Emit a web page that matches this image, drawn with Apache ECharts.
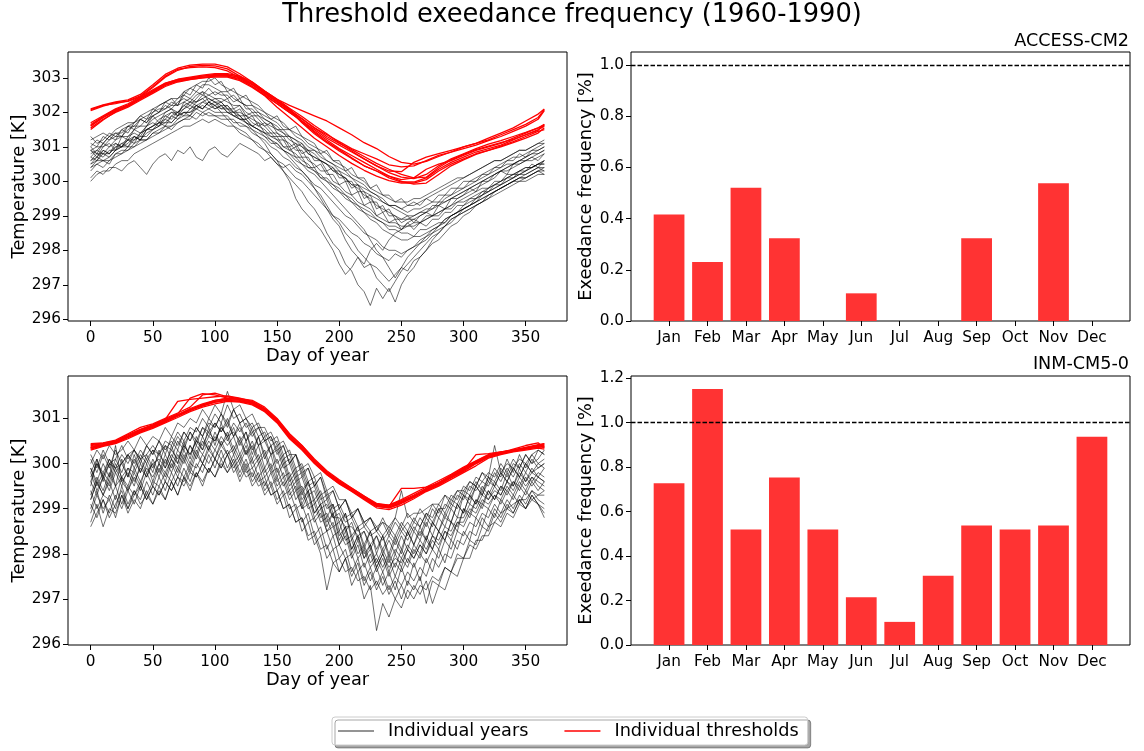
<!DOCTYPE html>
<html>
<head>
<meta charset="utf-8">
<script src="https://cdn.jsdelivr.net/npm/echarts@6/dist/echarts.min.js"></script>
<style>
html, body { margin: 0; padding: 0; background: #fff; }
#chart { width: 1144px; height: 751px; }
</style>
</head>
<body>
<div id="chart"></div>
<script>
// ---- data -------------------------------------------------------------
const MONTHS = ['Jan','Feb','Mar','Apr','May','Jun','Jul','Aug','Sep','Oct','Nov','Dec'];

// day-of-year sampling for the yearly curves and for the threshold curves
const DAYS_YEARS = [0,5,10,15,20,25,30,35,40,45,50,55,60,65,70,75,80,85,90,95,100,105,110,115,120,125,130,135,140,145,150,155,160,165,170,175,180,185,190,195,200,205,210,215,220,225,230,235,240,245,250,255,260,265,270,275,280,285,290,295,300,305,310,315,320,325,330,335,340,345,350,355,360,365];
const DAYS_THRESH = [0,10,20,30,40,50,60,70,80,90,100,110,120,130,140,150,160,170,180,190,200,210,220,230,240,250,260,270,280,290,300,310,320,330,340,350,360,365];

// ACCESS-CM2: daily temperature of individual years [K]
const ACCESS_YEARS = [
 [301.1,301.0,301.3,301.2,301.4,301.3,301.6,301.5,301.8,301.7, 302.0,302.1,302.1,302.3,302.2,302.5,302.4,302.6,302.5,302.7, 302.5,302.6,302.4,302.5,302.3,302.2,302.2,302.0,301.9,301.8, 301.7,301.5,301.5,301.3,301.2,301.0,300.9,300.8,300.6,300.5, 300.4,300.3,300.1,300.0,299.9,299.7,299.6,299.5,299.3,299.3, 299.2,299.1,299.2,299.2,299.3,299.4,299.4,299.6,299.6,299.8, 299.8,300.0,300.0,300.2,300.2,300.4,300.4,300.6,300.6,300.8, 300.7,300.9,300.9,301.0],
 [300.6,300.8,300.7,300.9,300.9,301.1,301.0,301.3,301.2,301.5, 301.5,301.7,301.6,301.9,301.8,302.0,301.9,302.2,302.1,302.3, 302.1,302.2,302.0,302.0,301.8,301.8,301.6,301.7,301.4,301.4, 301.2,301.2,300.9,301.0,300.7,300.7,300.4,300.5,300.2,300.2, 299.9,300.0,299.6,299.7,299.3,299.4,299.0,299.1,298.8,298.9, 298.6,298.8,298.6,298.8,298.7,298.9,298.9,299.1,299.1,299.3, 299.3,299.5,299.5,299.7,299.7,299.9,299.9,300.1,300.1,300.3, 300.3,300.5,300.4,300.6],
 [300.9,300.7,301.0,301.1,300.9,301.3,301.2,301.5,301.4,301.6, 301.9,301.7,302.0,302.1,301.9,302.3,302.2,302.4,302.6,302.3, 302.4,302.3,302.4,302.1,302.2,301.9,302.0,301.8,301.6,301.7, 301.4,301.3,301.3,301.0,301.1,300.8,300.7,300.6,300.5,300.3, 300.3,300.0,300.0,299.7,299.7,299.4,299.4,299.1,299.2,298.9, 298.9,299.0,298.8,299.0,299.1,299.0,299.3,299.2,299.5,299.5, 299.6,299.8,299.7,300.0,300.0,300.1,300.3,300.2,300.5,300.5, 300.6,300.7,300.6,300.8],
 [300.4,300.5,300.6,300.6,300.8,300.8,301.0,301.0,301.2,301.2, 301.4,301.4,301.5,301.6,301.7,301.8,301.8,302.0,301.9,302.0, 301.9,301.9,301.9,301.7,301.7,301.6,301.5,301.4,301.3,301.1, 301.1,300.9,300.8,300.7,300.5,300.4,300.3,300.1,300.1,299.9, 299.8,299.6,299.5,299.3,299.2,299.1,298.9,298.8,298.6,298.6, 298.5,298.5,298.4,298.6,298.6,298.7,298.8,298.8,299.0,299.1, 299.2,299.3,299.4,299.5,299.6,299.7,299.8,299.9,300.0,300.1, 300.1,300.2,300.3,300.3],
 [301.2,301.3,301.4,301.3,301.5,301.6,301.7,301.7,301.9,302.0, 302.1,302.2,302.3,302.4,302.4,302.6,302.7,302.8,302.9,302.9, 303.0,302.8,302.7,302.6,302.5,302.4,302.3,302.2,302.0,301.9, 301.8,301.7,301.5,301.4,301.3,301.1,301.0,300.9,300.8,300.6, 300.5,300.4,300.2,300.1,300.0,299.8,299.7,299.6,299.5,299.4, 299.4,299.4,299.5,299.5,299.6,299.7,299.8,299.9,300.0,300.1, 300.1,300.2,300.3,300.4,300.5,300.6,300.6,300.7,300.8,300.9, 300.9,301.0,301.1,301.1],
 [300.7,300.9,300.8,300.8,301.1,301.0,301.2,301.1,301.4,301.5, 301.6,301.8,301.9,301.8,302.0,302.2,302.1,302.3,302.4,302.2, 302.3,302.1,302.2,302.0,302.1,301.8,301.9,301.6,301.7,301.5, 301.3,301.3,301.0,301.1,300.8,300.9,300.6,300.6,300.3,300.4, 300.1,300.1,299.8,299.9,299.5,299.6,299.2,299.3,299.0,299.0, 298.8,298.9,298.9,298.8,299.0,299.0,299.1,299.2,299.3,299.4, 299.5,299.6,299.7,299.8,299.8,300.0,300.0,300.2,300.2,300.3, 300.4,300.4,300.5,300.6],
 [300.5,300.6,300.8,300.7,300.9,301.0,301.1,301.3,301.2,301.4, 301.5,301.6,301.8,301.7,301.9,302.0,302.0,302.1,302.2,302.1, 302.2,302.0,302.0,301.9,301.8,301.7,301.6,301.5,301.3,301.2, 301.0,300.9,300.7,300.5,300.3,300.1,299.8,299.6,299.3,299.0, 298.8,298.5,298.3,298.0,297.8,297.6,297.5,297.3,297.1,297.3, 297.5,297.4,297.7,297.8,298.0,298.2,298.3,298.5,298.7,298.8, 299.0,299.1,299.3,299.4,299.5,299.7,299.8,299.9,300.0,300.1, 300.2,300.3,300.4,300.4],
 [300.3,300.5,300.4,300.6,300.7,300.8,300.9,301.0,301.1,301.2, 301.3,301.4,301.6,301.5,301.7,301.8,301.9,301.8,302.0,301.9, 301.9,301.8,301.8,301.6,301.5,301.4,301.2,301.1,300.9,300.7, 300.5,300.3,300.1,299.9,299.7,299.4,299.2,298.9,298.5,298.2, 298.0,297.6,297.4,297.0,296.8,296.4,296.9,296.6,296.9,296.5, 297.0,297.3,297.5,297.8,298.0,298.3,298.5,298.7,298.9,299.0, 299.2,299.3,299.4,299.6,299.7,299.8,299.9,300.0,300.1,300.2, 300.2,300.3,300.4,300.3],
 [300.1,300.3,300.2,300.4,300.4,300.3,300.5,300.6,300.4,300.2, 300.5,300.7,300.8,300.6,300.9,300.8,301.0,300.7,300.6,300.9, 301.0,300.8,300.7,300.9,301.1,301.0,300.9,300.8,300.6,300.7, 300.5,300.4,300.5,300.3,300.2,300.0,299.8,299.5,299.2,298.9, 298.7,298.3,298.0,297.8,297.5,297.6,297.2,297.0,296.8,297.1, 297.4,297.6,297.8,298.0,298.2,298.4,298.5,298.7,298.8,299.0, 299.1,299.2,299.3,299.4,299.6,299.7,299.8,299.9,300.0,300.1, 300.1,300.2,300.3,300.2],
 [300.9,301.0,301.0,301.2,301.3,301.3,301.5,301.6,301.6,301.8, 301.9,302.0,302.1,302.2,302.2,302.3,302.4,302.3,302.5,302.4, 302.3,302.3,302.1,302.0,301.9,301.7,301.5,301.3,301.1,300.8, 300.6,300.3,300.0,299.5,299.2,299.0,298.8,298.6,298.3,298.0, 297.6,297.3,297.5,297.8,297.6,298.0,298.2,298.0,298.3,298.5, 298.6,298.8,298.9,299.0,299.1,299.2,299.3,299.4,299.5,299.6, 299.7,299.8,299.9,300.0,300.1,300.2,300.3,300.4,300.5,300.6, 300.6,300.7,300.8,300.9],
 [301.0,301.2,301.1,301.3,301.4,301.4,301.6,301.7,301.8,301.9, 302.0,302.2,302.3,302.2,302.4,302.5,302.7,302.6,302.8,302.8, 302.7,302.6,302.6,302.4,302.3,302.2,302.0,302.0,301.8,301.7, 301.6,301.4,301.3,301.2,301.0,300.9,300.8,300.6,300.5,300.4, 300.2,300.1,299.9,299.8,299.6,299.5,299.3,299.2,299.1,299.0, 298.9,298.9,299.0,299.1,299.1,299.3,299.3,299.5,299.6,299.7, 299.8,299.9,300.0,300.1,300.2,300.3,300.4,300.5,300.5,300.6, 300.7,300.8,300.8,300.9],
 [300.4,300.6,300.6,300.5,300.8,300.9,300.9,301.1,301.2,301.2, 301.4,301.5,301.6,301.6,301.8,301.9,301.9,302.1,302.0,302.1, 302.0,302.0,301.8,301.8,301.6,301.6,301.4,301.3,301.2,301.0, 300.9,300.7,300.6,300.4,300.3,300.1,299.9,299.8,299.6,299.4, 299.2,299.0,298.9,298.7,298.5,298.4,298.3,298.1,298.0,298.0, 297.9,298.0,298.1,298.2,298.3,298.5,298.6,298.7,298.9,299.0, 299.1,299.2,299.3,299.4,299.5,299.6,299.7,299.8,299.9,300.0, 300.0,300.1,300.2,300.2],
 [300.8,300.9,301.1,301.0,301.2,301.3,301.3,301.5,301.6,301.6, 301.8,301.9,302.0,302.1,302.0,302.2,302.3,302.3,302.4,302.5, 302.4,302.4,302.3,302.2,302.2,302.0,301.9,301.9,301.7,301.6, 301.5,301.4,301.2,301.1,301.0,300.8,300.7,300.6,300.5,300.3, 300.2,300.1,299.9,299.9,299.7,299.6,299.5,299.4,299.3,299.3, 299.2,299.3,299.3,299.4,299.5,299.6,299.7,299.8,299.9,300.0, 300.1,300.2,300.3,300.4,300.5,300.6,300.6,300.7,300.8,300.9, 300.9,301.0,301.1,301.2],
 [300.6,300.7,300.9,300.8,301.0,301.1,301.2,301.2,301.4,301.5, 301.6,301.7,301.8,302.0,301.9,302.1,302.2,302.1,302.3,302.2, 302.1,302.2,302.0,301.9,301.9,301.7,301.6,301.5,301.4,301.2, 301.1,300.9,300.8,300.6,300.5,300.3,300.2,300.0,299.8,299.6, 299.4,299.2,299.0,298.8,298.6,298.3,298.0,297.8,297.5,297.2, 297.5,297.8,298.0,298.2,298.4,298.5,298.7,298.9,299.0,299.1, 299.3,299.4,299.5,299.6,299.8,299.9,300.0,300.1,300.2,300.3, 300.4,300.4,300.5,300.6],
 [301.0,300.8,301.1,301.3,301.2,301.5,301.4,301.7,301.9,301.8, 302.1,302.0,302.3,302.4,302.2,302.6,302.5,302.8,302.7,303.0, 302.8,302.9,302.6,302.7,302.4,302.5,302.2,302.1,302.0,301.8, 301.9,301.6,301.5,301.6,301.3,301.2,301.1,300.8,300.9,300.6, 300.6,300.3,300.4,300.1,300.1,299.8,299.9,299.6,299.6,299.4, 299.5,299.3,299.4,299.3,299.5,299.4,299.6,299.6,299.8,299.8, 300.0,300.0,300.1,300.2,300.3,300.4,300.5,300.6,300.7,300.7, 300.8,300.9,301.0,301.1],
 [300.7,300.6,300.9,300.8,301.0,301.0,301.2,301.3,301.2,301.5, 301.6,301.7,301.7,301.9,302.0,301.9,302.1,302.2,302.1,302.3, 302.2,302.3,302.1,302.1,301.9,301.9,301.7,301.6,301.5,301.3, 301.3,301.0,301.0,300.7,300.7,300.4,300.4,300.1,300.0,299.8, 299.7,299.5,299.4,299.2,299.1,298.9,298.8,298.6,298.5,298.4, 298.3,298.3,298.4,298.4,298.5,298.6,298.7,298.9,299.0,299.1, 299.2,299.3,299.5,299.6,299.7,299.8,299.9,300.0,300.1,300.2, 300.3,300.4,300.5,300.5],
 [301.3,301.1,301.2,301.4,301.3,301.5,301.6,301.6,301.8,301.7, 301.9,302.0,302.2,302.1,302.3,302.4,302.3,302.5,302.6,302.5, 302.6,302.5,302.5,302.3,302.4,302.1,302.1,301.9,301.8,301.7, 301.5,301.5,301.3,301.2,301.1,300.9,300.9,300.7,300.6,300.5, 300.3,300.2,300.1,299.9,299.8,299.7,299.6,299.4,299.3,299.2, 299.1,299.0,299.0,299.1,299.2,299.2,299.4,299.4,299.5,299.6, 299.7,299.8,299.9,300.0,300.1,300.2,300.3,300.3,300.4,300.5, 300.6,300.6,300.7,300.8],
 [300.0,300.2,300.3,300.3,300.5,300.6,300.6,300.8,300.9,301.0, 301.1,301.2,301.3,301.4,301.5,301.6,301.6,301.7,301.8,301.7, 301.8,301.7,301.6,301.6,301.4,301.3,301.2,301.0,300.9,300.8, 300.6,300.5,300.3,300.1,300.0,299.8,299.6,299.4,299.2,299.0, 298.9,298.7,298.5,298.4,298.2,298.1,297.9,297.8,297.7,297.9, 297.8,298.0,298.1,298.3,298.4,298.6,298.7,298.8,299.0,299.1, 299.2,299.3,299.4,299.5,299.6,299.7,299.8,299.9,300.0,300.0, 300.1,300.2,300.3,300.4],
 [300.9,300.8,300.8,301.0,301.1,301.0,301.3,301.4,301.3,301.6, 301.7,301.6,301.9,302.0,302.0,302.1,302.3,302.2,302.3,302.4, 302.3,302.2,302.2,302.0,302.0,301.9,301.8,301.7,301.6,301.4, 301.4,301.2,301.1,300.9,300.9,300.6,300.5,300.3,300.3,300.0, 299.9,299.7,299.6,299.4,299.3,299.2,299.0,298.9,298.8,298.8, 298.7,298.7,298.8,298.8,298.9,299.0,299.0,299.2,299.2,299.4, 299.4,299.5,299.6,299.7,299.8,299.9,300.0,300.1,300.2,300.2, 300.3,300.4,300.5,300.5],
 [300.5,300.7,300.6,300.7,300.9,301.0,301.0,301.2,301.3,301.3, 301.5,301.6,301.7,301.7,301.9,302.0,302.0,302.2,302.1,302.3, 302.2,302.1,302.1,301.9,301.8,301.8,301.6,301.5,301.4,301.3, 301.2,301.0,300.9,300.8,300.6,300.5,300.3,300.2,300.0,299.9, 299.7,299.6,299.4,299.3,299.1,299.0,298.9,298.8,298.7,298.7, 298.6,298.7,298.7,298.8,298.9,299.0,299.1,299.2,299.3,299.5, 299.6,299.7,299.8,299.9,300.0,300.2,300.3,300.4,300.5,300.6, 300.7,300.8,300.9,301.0]
];

// ACCESS-CM2: threshold curves [K]
const ACCESS_THRESH = [
 [302.10,302.22,302.30,302.36,302.52,302.80,303.10,303.28,303.37,303.40, 303.40,303.32,303.12,302.88,302.62,302.38,302.20,302.05,301.90,301.75, 301.55,301.35,301.12,300.95,300.72,300.55,300.50,300.58,300.72,300.85, 301.00,301.10,301.25,301.40,301.55,301.75,301.95,302.10],
 [302.05,302.18,302.28,302.32,302.45,302.72,303.02,303.22,303.33,303.36, 303.35,303.26,303.05,302.80,302.55,302.30,302.05,301.80,301.55,301.35, 301.15,300.95,300.80,300.65,300.48,300.42,300.45,300.60,300.75,300.85, 300.95,301.05,301.18,301.30,301.45,301.60,301.80,302.05],
 [302.08,302.20,302.25,302.33,302.48,302.75,303.05,303.25,303.30,303.32, 303.30,303.20,303.00,302.75,302.50,302.25,302.00,301.75,301.50,301.25, 301.05,300.85,300.65,300.45,300.30,300.28,300.55,300.70,300.80,300.90, 301.00,301.10,301.20,301.35,301.50,301.65,301.85,302.08],
 [301.70,301.90,302.10,302.25,302.45,302.65,302.85,302.95,303.00,303.05, 303.08,303.05,302.95,302.75,302.50,302.25,302.00,301.75,301.45,301.20, 300.95,300.75,300.55,300.35,300.15,300.05,300.10,300.35,300.50,300.60, 300.75,300.90,301.00,301.10,301.25,301.40,301.55,301.65],
 [301.60,301.85,302.05,302.20,302.40,302.60,302.80,302.92,302.98,303.02, 303.05,303.05,302.98,302.80,302.55,302.30,302.05,301.70,301.38,301.12, 300.88,300.66,300.45,300.30,300.10,299.98,299.98,300.10,300.35,300.55, 300.70,300.85,300.95,301.05,301.20,301.35,301.50,301.60],
 [301.55,301.80,302.00,302.15,302.35,302.55,302.75,302.88,302.95,303.00, 303.02,303.02,302.92,302.72,302.48,302.15,301.85,301.55,301.25,301.00, 300.75,300.52,300.32,300.15,300.02,299.95,299.95,300.05,300.30,300.50, 300.65,300.80,300.90,301.00,301.12,301.25,301.40,301.55],
 [301.65,301.88,302.08,302.22,302.42,302.62,302.82,302.94,303.00,303.05, 303.10,303.10,303.00,302.82,302.58,302.32,302.08,301.82,301.55,301.30, 301.10,300.92,300.72,300.52,300.35,300.20,300.10,300.12,300.40,300.62, 300.78,300.92,301.02,301.12,301.22,301.35,301.48,301.65],
 [301.50,301.78,302.02,302.18,302.38,302.58,302.78,302.90,302.96,303.00, 303.05,303.08,303.02,302.85,302.60,302.35,302.10,301.72,301.42,301.15, 300.92,300.68,300.45,300.30,300.15,300.00,299.92,299.95,300.20,300.45, 300.62,300.78,300.90,301.02,301.15,301.30,301.45,301.50],
 [301.62,301.85,302.04,302.20,302.40,302.62,302.84,302.96,303.02,303.08, 303.12,303.12,303.05,302.88,302.62,302.38,302.12,301.88,301.62,301.38, 301.12,300.88,300.65,300.45,300.25,300.12,300.08,300.20,300.45,300.65, 300.80,300.95,301.08,301.18,301.30,301.42,301.55,301.62]
];

// INM-CM5-0: daily temperature of individual years [K]
const INM_YEARS = [
 [300.1,299.8,300.2,299.9,300.3,300.0,300.2,300.3,300.1,300.4, 300.2,300.5,300.3,300.5,300.3,300.7,300.5,300.8,300.6,300.9, 300.8,301.1,300.8,301.2,300.9,301.0,300.7,300.8,300.5,300.6, 300.3,300.4,300.0,300.2,299.8,299.9,299.5,299.7,299.3,299.4, 299.0,299.2,298.8,299.0,298.6,298.8,298.5,298.7,298.4,298.7, 298.5,298.7,298.5,298.8,298.6,299.0,298.8,299.1,299.0,299.3, 299.2,299.5,299.4,299.6,299.5,299.8,299.6,299.9,299.7,300.0, 299.8,300.1,299.9,300.0],
 [299.0,299.4,298.9,299.3,299.0,299.5,299.1,299.4,299.2,299.6, 299.3,299.7,299.4,299.8,299.5,299.9,299.6,300.0,299.8,300.2, 299.9,300.3,299.9,300.2,299.8,300.1,299.7,300.0,299.5,299.8, 299.4,299.6,299.2,299.4,299.0,299.1,298.7,298.9,298.5,298.6, 298.2,298.4,297.9,298.2,297.7,298.0,297.6,297.9,297.5,297.8, 297.6,297.9,297.7,298.0,297.8,298.1,297.9,298.3,298.1,298.5, 298.4,298.7,298.6,298.9,298.8,299.1,298.9,299.2,299.0,299.3, 299.1,299.4,299.2,299.1],
 [299.9,299.5,299.8,299.6,300.0,299.7,299.9,299.8,300.1,299.8, 300.0,300.1,299.9,300.2,300.0,300.4,300.2,300.5,300.3,300.6, 300.5,300.8,300.6,300.7,300.5,300.7,300.3,300.6,300.2,300.4, 300.0,300.2,299.7,299.9,299.4,299.6,299.2,299.4,299.0,299.1, 298.7,298.9,298.4,298.6,298.2,298.5,298.1,298.4,298.0,298.4, 298.1,298.5,298.2,298.5,298.3,298.7,298.5,298.8,298.7,299.1, 298.9,299.3,299.1,299.4,299.2,299.5,299.3,299.6,299.5,299.8, 299.6,299.8,299.7,299.9],
 [299.2,299.6,299.3,299.7,300.4,299.6,299.4,299.8,299.5,300.0, 299.6,300.0,299.7,300.1,299.8,300.2,299.9,300.3,300.0,300.4, 300.1,300.5,300.2,300.4,300.1,300.4,300.0,300.2,299.8,300.0, 299.6,299.8,299.4,299.6,299.1,299.4,298.9,299.1,298.6,298.9, 298.3,298.6,298.1,298.4,297.9,298.2,297.7,298.0,297.6,298.0, 297.7,298.1,297.9,298.2,298.0,298.3,298.1,298.5,298.3,298.7, 298.6,298.9,298.8,299.1,299.0,299.3,299.1,299.4,299.2,299.5, 299.3,299.6,299.4,299.6],
 [299.8,300.1,299.7,300.0,299.9,300.2,300.0,300.3,300.1,300.2, 300.4,300.2,300.5,300.4,300.7,300.5,300.8,300.7,301.0,300.8, 301.1,300.9,301.3,301.0,301.1,300.8,300.9,300.6,300.7,300.4, 300.5,300.1,300.2,299.8,299.9,299.5,299.6,299.2,299.3,298.9, 299.0,298.7,298.8,298.5,298.6,298.4,298.5,298.3,298.5,298.3, 298.6,298.4,298.7,298.6,298.9,298.7,299.0,299.0,299.3,299.2, 299.5,299.4,299.7,299.6,299.8,299.7,300.0,299.8,300.1,299.9, 300.2,300.0,300.1,300.3],
 [298.7,299.1,298.6,299.0,298.9,299.3,298.9,299.2,299.0,299.4, 299.1,299.4,299.2,299.6,299.3,299.7,299.5,299.8,299.6,299.9, 299.7,300.0,299.8,300.0,299.6,299.9,299.5,299.7,299.3,299.5, 299.1,299.3,298.8,299.0,298.5,298.7,298.2,298.4,297.9,298.1, 297.6,297.9,297.3,297.6,297.0,297.3,296.3,296.9,296.6,297.0, 296.8,297.2,297.0,297.3,297.2,297.5,297.4,297.7,297.6,297.9, 297.9,298.2,298.1,298.4,298.4,298.7,298.6,298.9,298.8,299.1, 299.0,299.2,299.1,299.0],
 [299.6,299.3,299.7,299.4,299.8,299.5,299.9,299.6,299.9,299.7, 300.0,299.7,300.1,299.8,300.2,300.0,300.4,300.1,300.5,300.3, 300.6,300.4,300.7,300.3,300.6,300.2,300.5,300.1,300.3,299.9, 300.1,299.7,299.8,299.4,299.5,299.1,299.2,298.8,298.9,298.6, 298.7,298.3,298.4,298.0,298.2,297.8,298.0,297.7,298.0,297.7, 298.1,297.8,298.2,298.0,298.4,298.1,298.5,298.3,298.7,298.5, 299.0,298.8,299.2,299.0,299.4,299.2,299.5,299.3,299.6,299.4, 299.7,299.5,299.7,299.6],
 [300.2,299.9,300.3,300.0,300.1,300.4,300.1,300.3,300.0,300.4, 300.2,300.5,300.2,300.6,300.4,300.7,300.5,300.8,300.6,301.0, 300.8,301.1,300.9,301.2,300.9,301.0,300.8,300.9,300.6,300.7, 300.4,300.5,300.2,300.2,299.9,300.0,299.7,299.8,299.4,299.5, 299.2,299.2,298.9,299.0,298.7,298.8,298.6,298.7,298.6,298.8, 299.4,298.8,298.9,298.9,299.0,299.1,299.1,299.3,299.2,299.4, 299.4,299.6,299.5,299.8,299.7,300.4,299.8,300.0,299.9,300.1, 300.0,300.2,300.3,300.2],
 [299.4,299.0,299.3,299.2,299.5,299.1,299.5,299.3,299.6,299.3, 299.6,299.5,299.8,299.6,299.9,299.7,300.0,299.9,300.2,300.0, 300.3,300.1,300.3,300.0,300.2,299.9,300.1,299.7,299.9,299.5, 299.7,299.3,299.4,299.0,299.1,298.7,298.8,298.4,298.5,298.1, 298.2,297.9,298.0,297.6,297.8,297.4,297.7,297.3,297.6,297.2, 297.7,297.3,297.8,297.4,297.9,297.6,298.1,297.8,298.3,298.1, 298.5,298.3,298.8,298.6,299.0,298.8,299.2,299.0,299.3,299.1, 299.4,299.2,299.3,299.4],
 [299.7,300.0,299.8,300.1,299.9,300.0,300.2,300.0,300.3,300.1, 300.3,300.2,300.4,300.3,300.6,300.4,300.7,300.5,300.8,300.7, 300.9,300.7,300.9,300.6,300.8,300.5,300.7,300.4,300.5,300.2, 300.3,299.9,300.0,299.6,299.7,299.3,299.4,299.0,299.1,298.8, 298.8,298.6,298.6,298.4,298.5,298.2,298.4,298.1,298.4,298.2, 298.5,298.3,298.6,298.4,298.8,298.6,299.0,298.8,299.1,299.0, 299.3,299.2,299.5,299.3,299.6,299.5,299.8,299.6,299.9,299.7, 300.0,299.8,299.9,300.0],
 [298.6,298.9,299.2,298.8,299.1,299.4,299.0,299.3,299.5,299.2, 299.5,299.3,299.6,299.4,299.7,299.5,299.8,299.7,300.0,299.8, 300.1,299.9,300.2,299.9,300.1,299.8,299.9,299.6,299.7,299.3, 299.4,299.0,299.1,298.7,298.8,298.3,298.4,298.0,297.2,297.8, 297.6,297.9,297.5,297.8,297.3,297.6,297.2,297.5,297.1,297.4, 297.0,297.4,297.2,297.5,296.9,297.4,297.3,297.7,297.6,298.0, 297.9,298.3,298.2,298.6,298.5,298.9,298.7,299.0,298.9,299.2, 299.0,299.3,299.1,298.8],
 [300.0,300.3,300.1,300.4,300.2,300.3,300.5,300.3,300.6,300.4, 300.6,300.5,300.8,300.6,300.9,300.8,301.0,300.9,301.2,301.0, 301.3,301.1,301.6,301.2,301.3,301.0,301.1,300.8,300.8,300.5, 300.6,300.2,300.3,299.9,300.0,299.6,299.7,299.3,299.4,299.0, 299.1,298.8,298.9,298.6,298.7,298.5,298.6,298.4,298.6,298.4, 298.7,298.5,298.8,298.6,298.9,298.8,299.1,298.9,299.2,299.1, 299.4,299.3,299.6,299.4,299.7,299.6,299.9,299.7,300.0,299.9, 300.2,300.0,300.3,300.2],
 [299.3,299.7,299.4,299.8,299.5,299.7,299.5,299.9,299.6,299.9, 299.7,300.0,299.8,300.1,299.9,300.3,300.0,300.4,300.2,300.5, 300.3,300.6,300.4,300.6,300.2,300.5,300.1,300.4,299.9,300.2, 299.7,300.0,299.5,299.7,299.2,299.4,298.9,299.1,298.7,298.9, 298.4,298.6,298.1,298.4,298.0,298.2,297.8,298.1,297.8,298.1, 297.9,298.2,298.0,298.3,298.1,298.4,298.3,298.6,298.5,298.8, 298.8,299.1,299.0,299.3,299.2,299.4,299.3,299.6,299.4,299.7, 299.5,299.7,299.6,299.5],
 [299.1,298.8,299.2,298.9,299.3,299.0,299.4,299.1,299.5,299.2, 299.5,299.3,299.6,299.4,299.7,299.6,299.9,299.7,300.0,299.8, 300.1,299.9,300.2,299.8,300.0,299.7,299.8,299.5,299.6,299.3, 299.4,299.0,299.1,298.7,298.8,298.4,298.5,298.1,298.2,297.8, 297.9,297.6,297.7,297.4,297.5,297.2,297.4,297.1,297.3,297.0, 297.3,297.0,297.3,297.1,297.4,296.9,297.3,297.2,297.6,297.5, 297.9,297.9,298.3,298.3,298.6,298.7,298.9,299.0,299.1,299.2, 299.2,299.4,299.3,299.3],
 [299.9,299.6,300.0,299.7,300.1,299.8,300.2,299.9,300.2,300.0, 300.3,300.0,300.4,300.1,300.5,300.3,300.7,300.4,300.8,300.6, 300.9,300.7,301.0,300.6,300.9,300.5,300.8,300.4,300.6,300.2, 300.4,300.0,300.1,299.7,299.8,299.4,299.5,299.1,299.2,298.8, 298.9,298.5,298.7,298.3,298.5,298.1,298.4,298.0,298.3,298.0, 298.4,298.1,298.5,298.3,298.7,298.4,298.8,298.6,299.0,298.8, 299.3,299.1,299.5,299.3,299.7,299.5,299.8,299.6,299.9,299.7, 300.0,299.8,300.0,299.9],
 [299.2,299.6,299.3,299.6,299.2,299.7,299.4,299.7,299.4,299.8, 299.5,299.9,299.6,300.0,299.7,300.1,299.8,300.2,300.0,300.3, 300.1,300.4,300.2,300.3,300.0,300.3,299.9,300.1,299.7,299.9, 299.5,299.7,299.3,299.5,299.0,299.3,298.8,299.0,298.5,298.7, 298.2,298.5,298.0,298.3,297.9,298.1,297.7,298.0,297.7,297.9, 297.8,298.1,297.9,298.2,298.0,298.4,298.2,298.5,298.4,298.7, 298.7,299.0,298.9,299.2,299.1,299.3,299.2,299.5,299.3,299.6, 299.4,299.7,299.5,299.4],
 [299.6,300.0,299.7,300.1,299.8,300.0,299.7,300.1,299.8,300.2, 299.9,300.2,300.0,300.3,300.1,300.4,300.2,300.5,300.4,300.7, 300.5,300.8,300.6,300.9,300.7,300.9,300.6,300.8,300.5,300.6, 300.2,300.4,300.0,300.2,299.7,299.9,299.5,299.7,299.2,299.4, 299.0,299.2,298.8,299.0,298.7,298.8,298.5,298.8,298.5,298.8, 298.6,298.9,298.7,299.0,298.8,299.1,298.9,299.3,299.1,299.4, 299.3,299.6,299.5,299.8,299.6,299.9,299.7,300.1,299.8,300.2, 299.9,300.2,300.0,300.1],
 [298.9,299.3,299.0,299.2,298.8,299.3,299.0,299.4,299.1,299.3, 299.1,299.5,299.2,299.6,299.3,299.7,299.4,299.8,299.5,299.9, 299.7,300.1,299.8,300.1,299.7,300.0,299.6,299.8,299.4,299.6, 299.2,299.4,299.0,299.1,298.7,298.9,298.4,298.6,298.1,298.4, 297.9,298.1,297.6,297.9,297.4,297.7,297.3,297.6,297.2,297.5, 297.3,297.6,297.4,297.7,297.5,297.9,297.7,298.0,297.9,298.3, 298.2,298.5,298.4,298.8,298.6,299.0,298.8,299.1,298.9,299.2, 299.0,299.3,299.1,298.9],
 [299.5,300.1,299.6,300.0,299.5,300.1,299.7,300.2,299.8,300.1, 299.8,300.3,299.9,300.4,300.0,300.5,300.1,300.6,300.3,300.8, 300.4,300.9,300.5,300.8,300.4,300.7,300.2,300.6,300.1,300.4, 299.8,300.1,299.6,299.8,299.3,299.6,299.1,299.3,298.8,299.1, 298.5,298.9,298.3,298.6,298.1,298.5,298.0,298.4,297.9,298.3, 298.0,298.5,298.2,298.6,298.3,298.7,298.5,298.9,298.7,299.1, 298.9,299.3,299.1,299.5,299.3,299.6,299.4,299.8,299.5,299.9, 299.6,299.9,299.7,299.6],
 [299.8,299.4,299.7,299.5,299.9,299.6,299.8,299.5,300.0,299.7, 300.1,299.8,300.2,299.9,300.3,300.1,300.4,300.2,300.6,300.3, 300.7,300.4,300.6,300.2,300.5,300.2,300.4,300.0,300.2,299.8, 299.9,299.5,299.7,299.2,299.4,299.0,299.1,298.7,298.8,298.4, 298.5,298.2,298.3,297.9,298.1,297.7,297.9,297.6,297.9,297.5, 297.9,297.7,298.1,297.9,298.3,298.1,298.5,298.3,298.7,298.6, 299.0,298.9,299.2,299.1,299.4,299.2,299.5,299.4,299.6,299.5, 299.8,299.6,299.8,299.7]
];

// INM-CM5-0: threshold curves [K]
const INM_THRESH = [
 [300.35,300.40,300.46,300.58,300.70,300.80,300.92,301.05,301.18,301.30, 301.40,301.45,301.42,301.35,301.20,300.92,300.58,300.32,300.02,299.78, 299.58,299.40,299.22,299.05,299.02,299.12,299.25,299.40,299.52,299.68, 299.82,300.00,300.15,300.22,300.28,300.32,300.36,300.38],
 [300.42,300.45,300.50,300.64,300.76,300.86,300.98,301.38,301.42,301.45, 301.48,301.50,301.45,301.38,301.22,300.98,300.65,300.40,300.08,299.82, 299.62,299.45,299.28,299.10,299.08,299.18,299.30,299.45,299.58,299.72, 299.88,300.05,300.18,300.25,300.30,300.35,300.40,300.44],
 [300.30,300.38,300.44,300.55,300.68,300.78,300.90,301.02,301.15,301.25, 301.32,301.38,301.36,301.30,301.15,300.90,300.55,300.30,300.00,299.75, 299.55,299.38,299.20,299.02,298.98,299.08,299.22,299.38,299.50,299.65, 299.80,299.95,300.12,300.20,300.26,300.30,300.34,300.32],
 [300.40,300.44,300.50,300.62,300.75,300.85,300.98,301.10,301.45,301.55, 301.52,301.45,301.42,301.36,301.22,300.96,300.62,300.36,300.06,299.80, 299.60,299.42,299.25,299.08,299.05,299.45,299.45,299.48,299.56,299.72, 299.88,300.02,300.18,300.24,300.30,300.34,300.40,300.42],
 [300.36,300.42,300.48,300.60,300.72,300.83,300.95,301.08,301.20,301.30, 301.38,301.42,301.40,301.33,301.18,300.94,300.60,300.35,300.04,299.80, 299.60,299.43,299.26,299.10,299.06,299.16,299.28,299.40,299.55,299.70, 299.85,300.20,300.22,300.26,300.30,300.34,300.40,300.38],
 [300.32,300.40,300.46,300.58,300.70,300.82,300.94,301.06,301.18,301.28, 301.36,301.40,301.38,301.32,301.16,300.92,300.58,300.32,300.02,299.76, 299.56,299.40,299.22,299.06,299.02,299.12,299.26,299.44,299.58,299.74, 299.90,300.05,300.18,300.24,300.32,300.40,300.46,300.34],
 [300.44,300.46,300.52,300.66,300.80,300.88,301.00,301.12,301.25,301.52, 301.56,301.48,301.44,301.40,301.25,301.00,300.66,300.40,300.10,299.84, 299.64,299.46,299.28,299.12,299.08,299.20,299.34,299.48,299.62,299.76, 299.92,300.06,300.20,300.26,300.30,300.36,300.42,300.44],
 [300.38,300.42,300.48,300.60,300.74,300.84,300.96,301.08,301.22,301.32, 301.40,301.44,301.42,301.36,301.20,300.95,300.60,300.36,300.05,299.80, 299.60,299.42,299.25,299.08,299.04,299.14,299.26,299.42,299.56,299.70, 299.86,300.02,300.16,300.22,300.28,300.34,300.38,300.40],
 [300.34,300.40,300.47,300.59,300.71,300.81,300.93,301.06,301.19,301.28, 301.36,301.40,301.38,301.34,301.18,300.93,300.58,300.33,300.03,299.78, 299.58,299.40,299.23,299.06,299.03,299.14,299.27,299.41,299.54,299.69, 299.84,300.00,300.14,300.22,300.27,300.32,300.37,300.36]
];

// monthly threshold exceedance frequency [%]
const ACCESS_FREQ = [0.416, 0.230, 0.520, 0.323, 0, 0.108, 0, 0, 0.323, 0, 0.538, 0];
const INM_FREQ    = [0.728, 1.152, 0.520, 0.753, 0.520, 0.215, 0.104, 0.312, 0.538, 0.520, 0.538, 0.937];

// tick labels
const DAY_TICKS = [0, 50, 100, 150, 200, 250, 300, 350];
const ACCESS_TEMP_TICKS = [296, 297, 298, 299, 300, 301, 302, 303];
const INM_TEMP_TICKS = [296, 297, 298, 299, 300, 301];
const ACCESS_FREQ_TICKS = [0, 0.2, 0.4, 0.6, 0.8, 1.0];
const INM_FREQ_TICKS = [0, 0.2, 0.4, 0.6, 0.8, 1.0, 1.2];
const REFERENCE_LEVEL = 1.0;

// ---- styling & layout ---------------------------------------------------
const FONT = 'DejaVu Sans';
const TICK_FS = 15.3;
const LABEL_FS = 17.8;
const BAR_COLOR = '#ff3333';
const YEAR_COLOR = 'rgba(0,0,0,0.56)';
const THRESH_COLOR = '#ff0000';

const PANEL_W = 499, PANEL_H = 269;
const LEFT_X = 68, RIGHT_X = 631, TOP_Y = 52, BOTTOM_Y = 376;
const MONTH_MIN = -0.99, MONTH_MAX = 11.99;
const BAR_W = 0.8 * PANEL_W / (MONTH_MAX - MONTH_MIN);

function grid(left, top) {
  return { left: left, top: top, width: PANEL_W, height: PANEL_H, show: true,
           borderColor: '#000', borderWidth: 1, backgroundColor: 'transparent', containLabel: false };
}

const tickStyle = { show: true, length: 5, inside: false, lineStyle: { color: '#000', width: 1 } };
const labelText = { color: '#000', fontFamily: FONT, fontSize: TICK_FS };
const hiddenLine = { show: false, onZero: false };

function dayAxis(gi) {
  return {
    type: 'value', gridIndex: gi, min: -18.25, max: 383.25, position: 'bottom',
    name: 'Day of year', nameLocation: 'middle', nameGap: 26,
    nameTextStyle: { color: '#000', fontFamily: FONT, fontSize: LABEL_FS, verticalAlign: 'top' },
    axisLine: hiddenLine,
    axisTick: Object.assign({ customValues: DAY_TICKS }, tickStyle),
    axisLabel: Object.assign({ customValues: DAY_TICKS, margin: 10, formatter: v => String(v) }, labelText),
    splitLine: { show: false }
  };
}
function monthAxis(gi) {
  const idx = MONTHS.map((m, i) => i);
  return {
    type: 'value', gridIndex: gi, min: MONTH_MIN, max: MONTH_MAX, position: 'bottom',
    axisLine: hiddenLine,
    axisTick: Object.assign({ customValues: idx }, tickStyle),
    axisLabel: Object.assign({ customValues: idx, margin: 10, formatter: v => MONTHS[Math.round(v)] }, labelText),
    splitLine: { show: false }
  };
}
function tempAxis(gi, min, max, ticks) {
  return {
    type: 'value', gridIndex: gi, min: min, max: max, position: 'left',
    name: 'Temperature [K]', nameLocation: 'middle', nameGap: 40,
    nameTextStyle: { color: '#000', fontFamily: FONT, fontSize: LABEL_FS },
    axisLine: hiddenLine,
    axisTick: Object.assign({ customValues: ticks }, tickStyle),
    axisLabel: Object.assign({ customValues: ticks, margin: 7, formatter: v => String(Math.round(v)) }, labelText),
    splitLine: { show: false }
  };
}
function freqAxis(gi, max, ticks) {
  return {
    type: 'value', gridIndex: gi, min: 0, max: max, position: 'left',
    name: 'Exeedance frequency [%]', nameLocation: 'middle', nameGap: 36,
    nameTextStyle: { color: '#000', fontFamily: FONT, fontSize: LABEL_FS },
    axisLine: hiddenLine,
    axisTick: Object.assign({ customValues: ticks }, tickStyle),
    axisLabel: Object.assign({ customValues: ticks, margin: 7, formatter: v => v.toFixed(1) }, labelText),
    splitLine: { show: false }
  };
}

function yearSeries(list, gi) {
  return list.map(vals => ({
    type: 'line', name: 'Individual years', xAxisIndex: gi, yAxisIndex: gi,
    data: DAYS_YEARS.map((d, i) => [d, vals[i]]),
    symbol: 'none', showSymbol: false, silent: true, z: 2,
    lineStyle: { color: YEAR_COLOR, width: 1 }, itemStyle: { color: YEAR_COLOR }
  }));
}
function threshSeries(list, gi) {
  return list.map(vals => ({
    type: 'line', name: 'Individual thresholds', xAxisIndex: gi, yAxisIndex: gi,
    data: DAYS_THRESH.map((d, i) => [d, vals[i]]),
    symbol: 'none', showSymbol: false, silent: true, z: 3,
    lineStyle: { color: THRESH_COLOR, width: 1.3 }, itemStyle: { color: THRESH_COLOR }
  }));
}
function freqSeries(values, gi) {
  return {
    type: 'bar', name: 'frequency', xAxisIndex: gi, yAxisIndex: gi,
    data: values.map((v, i) => [i, v]), barWidth: BAR_W, silent: true,
    itemStyle: { color: BAR_COLOR },
    markLine: {
      silent: true, symbol: 'none', label: { show: false },
      lineStyle: { color: '#000', width: 1.3, type: [4.5, 2] },
      data: [{ yAxis: REFERENCE_LEVEL }]
    }
  };
}

const option = {
  animation: false,
  backgroundColor: '#fff',
  textStyle: { fontFamily: FONT },
  title: [
    { text: 'Threshold exeedance frequency (1960-1990)', left: 'center', top: 2, padding: 0,
      textStyle: { fontFamily: FONT, fontSize: 25.7, fontWeight: 'normal', color: '#000' } },
    { text: 'ACCESS-CM2', right: 15, top: 32, padding: 0,
      textStyle: { fontFamily: FONT, fontSize: 17.6, fontWeight: 'normal', color: '#000' } },
    { text: 'INM-CM5-0', right: 15, top: 355, padding: 0,
      textStyle: { fontFamily: FONT, fontSize: 17.6, fontWeight: 'normal', color: '#000' } }
  ],
  legend: {
    data: ['Individual years', 'Individual thresholds'],
    left: 332, top: 717, orient: 'horizontal',
    icon: 'rect', itemWidth: 36, itemHeight: 1.4, itemGap: 36,
    padding: [5, 9, 5, 6],
    backgroundColor: '#fff', borderColor: '#cccccc', borderWidth: 1, borderRadius: 3,
    shadowColor: 'rgba(0,0,0,0.35)', shadowOffsetX: 3, shadowOffsetY: 3, shadowBlur: 0,
    selectedMode: false,
    textStyle: { fontFamily: FONT, fontSize: 17.7, color: '#000', padding: [0, 0, 0, 9] }
  },
  grid: [grid(LEFT_X, TOP_Y), grid(RIGHT_X, TOP_Y), grid(LEFT_X, BOTTOM_Y), grid(RIGHT_X, BOTTOM_Y)],
  xAxis: [dayAxis(0), monthAxis(1), dayAxis(2), monthAxis(3)],
  yAxis: [
    tempAxis(0, 295.95, 303.75, ACCESS_TEMP_TICKS),
    freqAxis(1, 1.05, ACCESS_FREQ_TICKS),
    tempAxis(2, 295.98, 301.94, INM_TEMP_TICKS),
    freqAxis(3, 1.21, INM_FREQ_TICKS)
  ],
  series: [].concat(
    yearSeries(ACCESS_YEARS, 0), threshSeries(ACCESS_THRESH, 0),
    [freqSeries(ACCESS_FREQ, 1)],
    yearSeries(INM_YEARS, 2), threshSeries(INM_THRESH, 2),
    [freqSeries(INM_FREQ, 3)]
  )
};

const chart = echarts.init(document.getElementById('chart'), null, { renderer: 'canvas' });
chart.setOption(option);
</script>
</body>
</html>
